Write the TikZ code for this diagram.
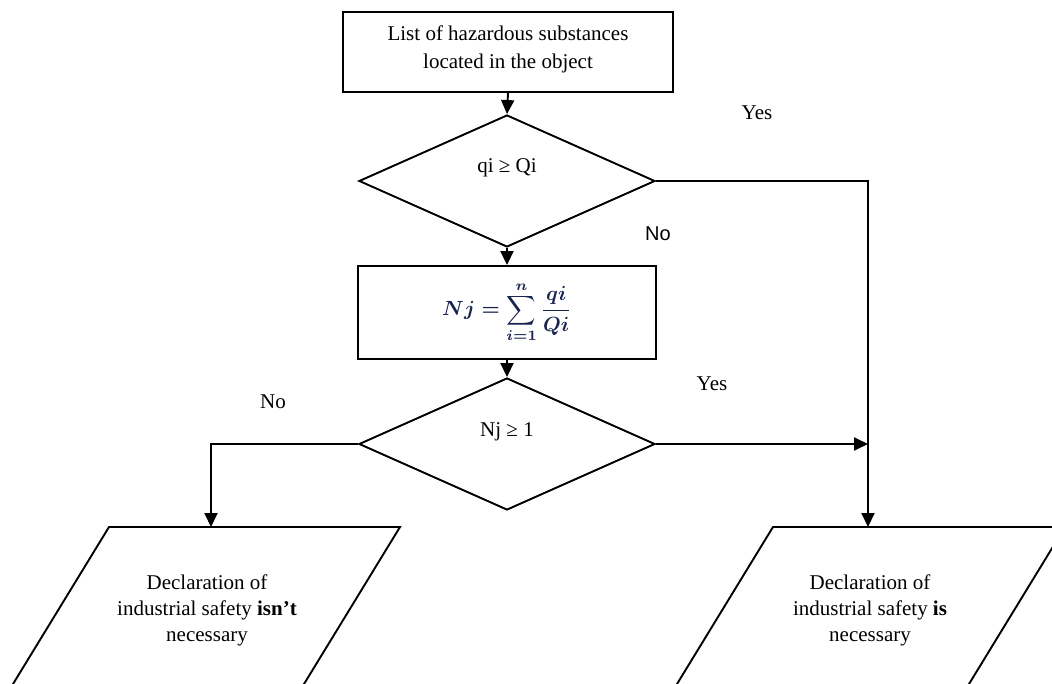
\documentclass[tikz,border=0pt]{standalone}
\usepackage{fontspec}
\setmainfont{Liberation Serif}
\setsansfont{Liberation Sans}
\usetikzlibrary{shapes.geometric,arrows.meta}
\definecolor{formulacol}{RGB}{25,35,80}
\tikzset{
  line/.style={draw=black,line width=1.9pt},
  arr/.style={line,-{Triangle[length=14pt,width=13pt]}},
  boxnode/.style={line,rectangle,inner sep=0pt,align=center},
  dia/.style={line,diamond,inner sep=0pt,minimum width=296pt,minimum height=132pt},
  txt/.style={inner sep=0pt,align=center,font=\fontsize{21}{28}\selectfont},
  lbl/.style={inner sep=0pt,font=\fontsize{21}{25}\selectfont},
  slbl/.style={inner sep=0pt,font=\sffamily\fontsize{20}{24}\selectfont},
}
\begin{document}
\begin{tikzpicture}[x=1pt,y=-1pt]
\clip (0,0) rectangle (1052,684);
\useasboundingbox (0,0) rectangle (1052,684);

% top box
\node[boxnode,minimum width=330pt,minimum height=80pt] (top) at (508,52) {};
\node[txt] (toptxt) at (508,49) {List of hazardous substances\\located in the object};

% decision 1
\node[dia] (d1) at (507,181) {};
\node[txt] (d1txt) at (507,168) {qi ≥ Qi};

% formula box
\node[boxnode,minimum width=298pt,minimum height=93pt] (fb) at (507,312.5) {};
\node[inner sep=0pt,text=formulacol] (ftxt) at (507,312)
  {\scalebox{2.05}{\boldmath$\displaystyle Nj=\sum_{i=1}^{n}\frac{qi}{Qi}$}};

% decision 2
\node[dia] (d2) at (507,444) {};
\node[txt] (d2txt) at (507,432) {Nj ≥ 1};

% parallelograms
\coordinate (pl) at (211,527);
\coordinate (pr) at (868,527);
\coordinate (jn) at (868,444);
\draw[line] (109,527) -- (400,527) -- (282,720) -- (-9,720) -- cycle;
\draw[line] (773,527) -- (1065,527) -- (947,720) -- (655,720) -- cycle;
\node[txt,font=\fontsize{21}{26}\selectfont] (pltxt) at (207,610)
  {Declaration of\\industrial safety \textbf{isn’t}\\necessary};
\node[txt,font=\fontsize{21}{26}\selectfont] (prtxt) at (870,610)
  {Declaration of\\industrial safety \textbf{is}\\necessary};

% labels
\node[lbl] (yes1) at (757,113) {Yes};
\node[slbl] (no1) at (658,234) {No};
\node[lbl] (yes2) at (712,384) {Yes};
\node[lbl] (no2) at (273,402) {No};

% connectors
\draw[arr] (top.south) -- (d1.north);
\draw[arr] (d1.south) -- (fb.north);
\draw[arr] (fb.south) -- (d2.north);
\draw[arr] (d1.east) -| (pr);
\draw[arr] (d2.east) -- (jn);
\draw[arr] (d2.west) -| (pl);
\end{tikzpicture}
\end{document}
